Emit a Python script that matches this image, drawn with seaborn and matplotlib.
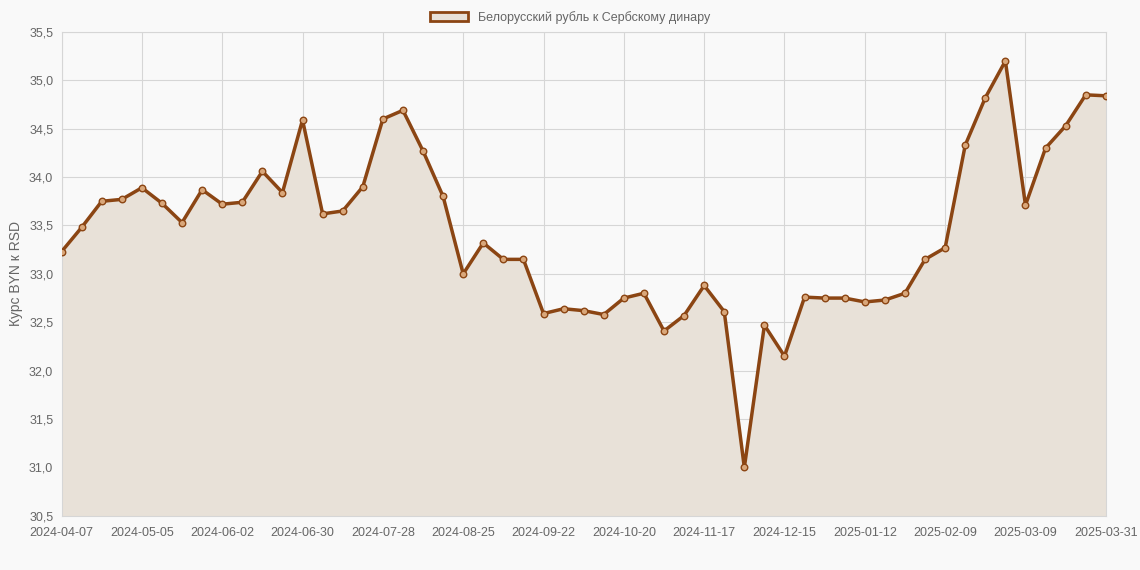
import matplotlib
matplotlib.use("Agg")
import matplotlib.pyplot as plt
import matplotlib.patches as mpatches
import seaborn as sns
import pandas as pd
import numpy as np

tick_labels = ["2024-04-07", "2024-05-05", "2024-06-02", "2024-06-30", "2024-07-28",
               "2024-08-25", "2024-09-22", "2024-10-20", "2024-11-17", "2024-12-15",
               "2025-01-12", "2025-02-09", "2025-03-09", "2025-03-31"]
rates = [33.23, 33.48, 33.75, 33.77, 33.89, 33.73, 33.53, 33.87, 33.72, 33.74,
         34.06, 33.84, 34.59, 33.62, 33.65, 33.90, 34.60, 34.69, 34.27, 33.80,
         33.00, 33.32, 33.15, 33.15, 32.59, 32.64, 32.62, 32.58, 32.75, 32.80,
         32.41, 32.57, 32.88, 32.61, 31.00, 32.47, 32.15, 32.76, 32.75, 32.75,
         32.71, 32.73, 32.80, 33.15, 33.27, 34.33, 34.82, 35.20, 33.71, 34.30,
         34.53, 34.85, 34.84]

color = "#8B4513"
df = pd.DataFrame({"idx": np.arange(len(rates)), "rate": rates})

sns.set_style("whitegrid")
plt.rcParams["font.family"] = ["Liberation Sans", "DejaVu Sans"]
fig = plt.figure(figsize=(11.4, 5.7), dpi=100, facecolor="#f9f9f9")
ax = fig.add_axes([0.054, 0.095, 0.916, 0.849])
ax.set_facecolor("#f9f9f9")

ax.fill_between(df["idx"], df["rate"], 30.5, color="#e8e1d8", zorder=1)
sns.lineplot(data=df, x="idx", y="rate", ax=ax, color=color, linewidth=2.5, zorder=3)
ax.scatter(df["idx"], df["rate"], s=22, facecolor="#d9a77a", edgecolor=color,
           linewidth=1, zorder=4)

ax.set_xlim(0, len(rates) - 1)
ax.set_ylim(30.5, 35.5)
ax.set_xticks(list(range(0, 49, 4)) + [52])
ax.set_xticklabels(tick_labels)
yt = np.arange(30.5, 35.51, 0.5)
ax.set_yticks(yt)
ax.set_yticklabels([f"{v:.1f}".replace(".", ",") for v in yt])
ax.tick_params(labelsize=9, colors="#666666", length=0)
ax.tick_params(axis="x", pad=8)
ax.tick_params(axis="y", pad=6)
ax.grid(color="#d6d6d6", linewidth=0.8)
for s in ax.spines.values():
    s.set_color("#d6d6d6")
ax.set_xlabel("")
ax.set_ylabel("Курс BYN к RSD", fontsize=10, color="#666666", labelpad=4)

patch = mpatches.Patch(facecolor="#e8e1d8", edgecolor=color, linewidth=2,
                       label="Белорусский рубль к Сербскому динару")
fig.legend(handles=[patch], loc="upper center", bbox_to_anchor=(0.5, 1.0),
           frameon=False, fontsize=9, labelcolor="#666666", handlelength=3)

fig.savefig("out.png", dpi=100, facecolor=fig.get_facecolor())
